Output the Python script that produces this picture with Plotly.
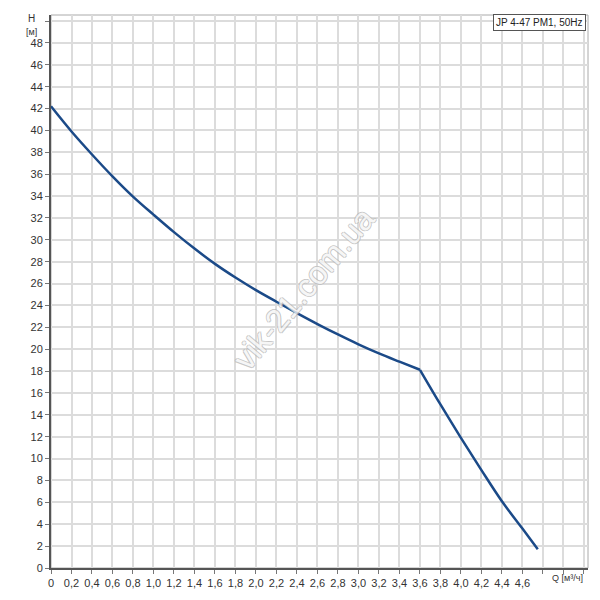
import plotly.graph_objects as go

# Data
flow_q = [0, 0.2, 0.4, 0.6, 0.8, 1.0, 1.2, 1.4, 1.6, 1.8, 2.0, 2.2, 2.4, 2.6, 2.8,
          3.0, 3.2, 3.4, 3.6, 3.8, 4.0, 4.2, 4.4, 4.6, 4.75]
head_h = [42.2, 39.9, 37.8, 35.8, 33.95, 32.3, 30.7, 29.2, 27.8, 26.55, 25.4, 24.34,
          23.3, 22.3, 21.35, 20.45, 19.62, 18.86, 18.12, 14.95, 11.9, 8.95, 6.1, 3.6, 1.72]
kink_index = 18  # curve has a sharp break at Q = 3.6

x_tickvals = [round(i * 0.2, 1) for i in range(27)]
x_ticktext = [("0" if v == 0 else f"{v:.1f}".replace(".", ",")) if v <= 4.6 else "" for v in x_tickvals]
y_tickvals = list(range(0, 51, 2))
y_ticktext = [str(v) if v <= 48 else "" for v in y_tickvals]

legend_text = "JP 4-47 PM1, 50Hz"
x_label = "Q [м³/ч]"
y_label_top = "H"
y_label_unit = "[м]"
watermark = "vik-21.com.ua"

fig = go.Figure()
for seg in (slice(0, kink_index + 1), slice(kink_index, None)):
    fig.add_trace(go.Scatter(
        x=flow_q[seg], y=head_h[seg], mode="lines",
        line=dict(color="#1b4a88", width=2.5, shape="spline", smoothing=1.0),
        hoverinfo="skip", showlegend=False,
    ))

axis_font = dict(family="Liberation Sans, Arial, sans-serif", size=11, color="#333333")

fig.update_layout(
    width=592, height=592,
    margin=dict(l=43, r=12, t=7, b=32, autoexpand=False),
    paper_bgcolor="white", plot_bgcolor="white",
    showlegend=False,
    xaxis=dict(
        range=[0, 5.24], tickmode="array", tickvals=x_tickvals, ticktext=x_ticktext,
        showgrid=True, gridcolor="#dcdcdc", gridwidth=1.5,
        showline=True, linecolor="#555555", linewidth=2,
        ticks="outside", ticklen=4, tickcolor="#777777", tickwidth=1,
        tickfont=axis_font, zeroline=False, fixedrange=True,
    ),
    yaxis=dict(
        range=[0, 50.55], tickmode="array", tickvals=y_tickvals, ticktext=y_ticktext,
        showgrid=True, gridcolor="#dcdcdc", gridwidth=1.5,
        showline=True, linecolor="#555555", linewidth=2,
        ticks="outside", ticklen=4, tickcolor="#777777", tickwidth=1,
        tickfont=axis_font, zeroline=False, fixedrange=True,
    ),
    shapes=[dict(type="rect", xref="paper", yref="paper", x0=0, y0=0, x1=1, y1=1,
                 line=dict(color="#aaaaaa", width=1), layer="below")],
    annotations=[
        dict(text=legend_text, xref="paper", yref="paper", x=1, y=1,
             xanchor="right", yanchor="top", xshift=-2, yshift=1, showarrow=False,
             font=dict(family="Liberation Sans, Arial, sans-serif", size=10, color="#222222"),
             bgcolor="white", bordercolor="#555555", borderwidth=1, borderpad=2),
        dict(text=x_label, xref="x", yref="paper", x=5.04, y=0, yanchor="top",
             yshift=-3, showarrow=False,
             font=dict(family="Liberation Sans, Arial, sans-serif", size=9, color="#333333")),
        dict(text=y_label_top, xref="paper", yref="paper", x=0, y=1,
             xanchor="center", yanchor="middle", xshift=-20, yshift=-3, showarrow=False,
             font=dict(family="Liberation Sans, Arial, sans-serif", size=10, color="#333333")),
        dict(text=y_label_unit, xref="paper", yref="paper", x=0, y=1,
             xanchor="center", yanchor="middle", xshift=-20, yshift=-17, showarrow=False,
             font=dict(family="Liberation Sans, Arial, sans-serif", size=9, color="#333333")),
        dict(text=watermark, xref="paper", yref="paper", x=0.47, y=0.505,
             xanchor="center", yanchor="middle", textangle=-50, showarrow=False,
             opacity=0.8,
             font=dict(family="Liberation Sans, Arial, sans-serif", size=32,
                       color="rgba(255,255,255,0.9)",
                       shadow="1px 0 0 #b5b5b5, -1px 0 0 #b5b5b5, 0 1px 0 #b5b5b5, 0 -1px 0 #b5b5b5")),
    ],
)

fig.write_html("out.html")
